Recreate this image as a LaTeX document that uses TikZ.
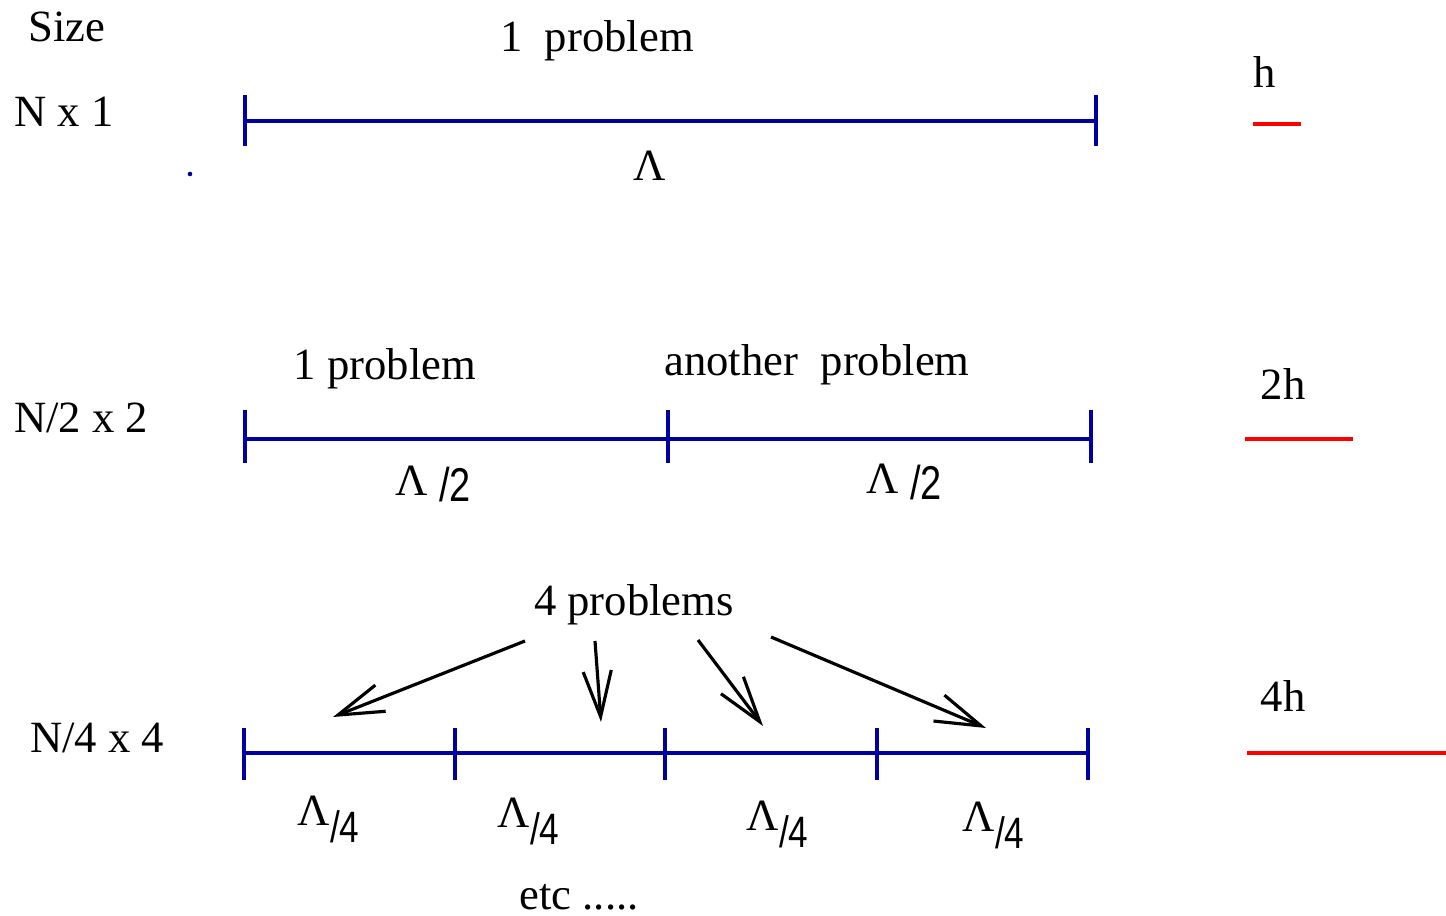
\documentclass[tikz,border=0pt]{standalone}
\usepackage{fontspec}
\usepackage{graphicx}
\setmainfont{Liberation Serif}
\setsansfont{Liberation Sans}
\usetikzlibrary{arrows.meta}
\definecolor{azul}{RGB}{0,0,160}
\begin{document}
\begin{tikzpicture}[
    x=0.01cm, y=-0.01cm,
    font=\fontsize{12.7}{15}\selectfont,
    etiq/.style={anchor=base, inner sep=0pt},
    lam/.style={anchor=base west, inner sep=0pt},
    barra/.style={draw=azul, line width=1.1pt},
    tick/.style={draw=azul, line width=1.1pt},
    escala/.style={draw=red, line width=1.1pt},
    flecha/.style={line width=0.9pt, -{Straight Barb[length=13pt,width=8pt,line width=0.9pt]}}]

  \useasboundingbox (0,0) rectangle (1446,916);

  %% ============================== N x 1 ==================================
  \node[etiq] (size) at (67,42) {Size};
  \node[etiq] (fila1) at (64,127) {N x 1};
  \node[etiq] (prob1) at (597,52) {1\ \ problem};
  \fill[azul] (190,174) circle (0.65pt);
  \foreach \i/\x in {1/245, 2/1096} {
    \coordinate (u\i) at (\x,121);
    \draw[tick] (\x,95) -- (\x,146);
  }
  \draw[barra] (u1) -- (u2);
  \node[etiq] (lam1) at (650,181) {Λ};
  \node[etiq] (h1) at (1265,88) {h};
  \coordinate (r1a) at (1253,124);
  \coordinate (r1b) at (1301,124);
  \draw[escala] (r1a) -- (r1b);

  %% ============================= N/2 x 2 =================================
  \node[etiq] (fila2) at (81,433) {N/2 x 2};
  \node[etiq] (prob2a) at (385,380) {1 problem};
  \node[etiq] (prob2b) at (817,376) {another\ \ problem};
  \foreach \i/\x in {1/245, 2/668, 3/1091} {
    \coordinate (d\i) at (\x,439);
    \draw[tick] (\x,410) -- (\x,463);
  }
  \draw[barra] (d1) -- (d2) -- (d3);
  \foreach \i/\x/\y in {1/395/496, 2/866/494}
    \node[lam] (lamm\i) at (\x,\y)
      {Λ\ \raisebox{-1.6pt}{\scalebox{0.8}[1]{\fontsize{13.5}{15}\sffamily /2}}};
  \node[etiq] (h2) at (1283,400) {2h};
  \coordinate (r2a) at (1245,439);
  \coordinate (r2b) at (1353,439);
  \draw[escala] (r2a) -- (r2b);

  %% ============================= N/4 x 4 =================================
  \node[etiq] (prob4) at (634,615) {4 problems};
  \node[etiq] (fila4) at (97,752) {N/4 x 4};
  \foreach \i/\x in {1/244, 2/455, 3/665, 4/877, 5/1088} {
    \coordinate (c\i) at (\x,753);
    \draw[tick] (\x,728) -- (\x,780);
  }
  \draw[barra] (c1) -- (c2) -- (c3) -- (c4) -- (c5);
  \foreach \i/\x/\y in {1/297/825, 2/497/827, 3/746/830, 4/962/831}
    \node[lam] (lamq\i) at (\x,\y)
      {Λ\raisebox{-5pt}{\scalebox{0.8}[1]{\fontsize{12.5}{14}\sffamily /4}}};
  \foreach \i/\xa/\ya/\xb/\yb in {1/525/641/333/717, 2/595/641/601/722,
                                 3/698/640/763/726, 4/771/637/986/728} {
    \coordinate (f\i) at (\xa,\ya);
    \coordinate (t\i) at (\xb,\yb);
    \draw[flecha] (f\i) -- (t\i);
  }
  \node[etiq] (h4) at (1283,711) {4h};
  \coordinate (r4a) at (1247,753);
  \coordinate (r4b) at (1446,753);
  \draw[escala] (r4a) -- (r4b);
  \node[etiq] (etc) at (579,909) {etc .....};

\end{tikzpicture}
\end{document}
